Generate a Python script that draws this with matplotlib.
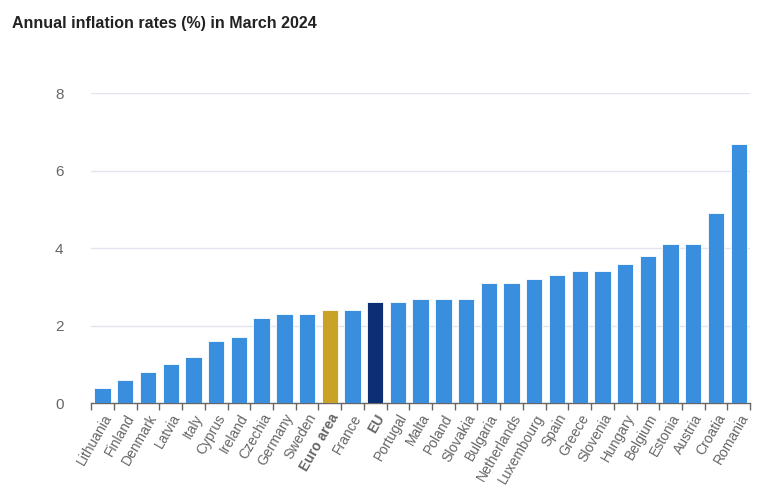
import matplotlib.pyplot as plt

plt.rcParams['font.family'] = ['Liberation Sans', 'DejaVu Sans']

# data
countries = ['Lithuania', 'Finland', 'Denmark', 'Latvia', 'Italy', 'Cyprus', 'Ireland',
             'Czechia', 'Germany', 'Sweden', 'Euro area', 'France', 'EU', 'Portugal',
             'Malta', 'Poland', 'Slovakia', 'Bulgaria', 'Netherlands', 'Luxembourg',
             'Spain', 'Greece', 'Slovenia', 'Hungary', 'Belgium', 'Estonia', 'Austria',
             'Croatia', 'Romania']
rates = [0.4, 0.6, 0.8, 1.0, 1.2, 1.6, 1.7, 2.2, 2.3, 2.3, 2.4, 2.4, 2.6, 2.6,
         2.7, 2.7, 2.7, 3.1, 3.1, 3.2, 3.3, 3.4, 3.4, 3.6, 3.8, 4.1, 4.1, 4.9, 6.7]

colors = []
for c in countries:
    if c == 'Euro area':
        colors.append('#c9a227')
    elif c == 'EU':
        colors.append('#0c2e73')
    else:
        colors.append('#3a8ede')

fig = plt.figure(figsize=(7.6, 4.91), dpi=100)
ax = fig.add_axes([0.12, 0.179, 0.867, 0.631])

x = range(len(countries))
ax.bar(x, rates, width=0.72, color=colors, edgecolor='#ffffff', linewidth=0.6, zorder=3)

ax.set_xlim(-0.5, len(countries) - 0.5)
ax.set_ylim(0, 8)
ax.set_yticks([0, 2, 4, 6, 8])
ax.grid(axis='y', color='#e1e5ef', linewidth=1, zorder=0)

for s in ['top', 'right', 'left']:
    ax.spines[s].set_visible(False)
ax.spines['bottom'].set_color('#666666')
ax.spines['bottom'].set_linewidth(1)

# ticks sit between categories
ax.set_xticks([i - 0.5 for i in range(len(countries) + 1)], minor=True)
ax.set_xticks(list(x))
ax.tick_params(axis='x', which='major', length=0, pad=6)
ax.tick_params(axis='x', which='minor', length=5, color='#666666', width=1)
ax.tick_params(axis='y', length=0, pad=20, labelsize=11, labelcolor='#666666')

ax.set_xticklabels(countries, rotation=60, ha='right', rotation_mode='anchor',
                   fontsize=10, color='#666666')
for lbl in ax.get_xticklabels():
    if lbl.get_text() in ('Euro area', 'EU'):
        lbl.set_fontweight('bold')

fig.text(0.016, 0.953, 'Annual inflation rates (%) in March 2024', fontsize=11.5,
         fontweight='bold', color='#222222', ha='left', va='center')

fig.savefig('out.png', dpi=100)
